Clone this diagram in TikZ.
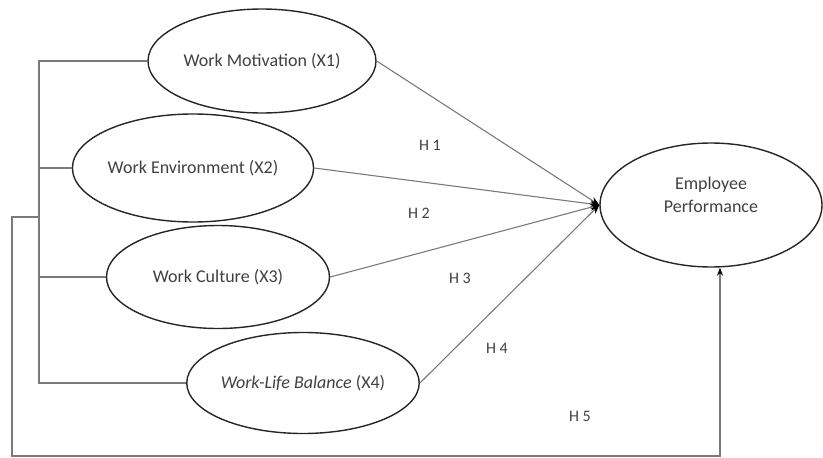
\documentclass[tikz,border=0pt]{standalone}
\usepackage{fontspec}
\setmainfont{Carlito}
\usetikzlibrary{shapes.geometric,arrows.meta}
\definecolor{txtgray}{HTML}{404040}
\definecolor{linegray}{HTML}{7A7A7A}

\begin{document}
\begin{tikzpicture}[x=1pt,y=-1pt,
			var/.style={ellipse,draw=black!85,line width=1.4pt,inner sep=0pt,text=txtgray,font=\fontsize{18}{22}\selectfont},
			link/.style={draw=linegray,line width=1.1pt},
			hyp/.style={text=txtgray,font=\fontsize{16}{19}\selectfont}]
			\useasboundingbox (0,0) rectangle (823,458);
			% variables
			\node[var,minimum width=228,minimum height=104] (x1) at (262,61) {Work Motivation (X1)};
			\node[var,minimum width=240,minimum height=108] (x2) at (193,168) {Work Environment (X2)};
			\node[var,minimum width=223,minimum height=103] (x3) at (218,277) {Work Culture (X3)};
			\node[var,minimum width=220,minimum height=101] (x4) at (303,383) {\textit{Work-Life Balance} (X4)};
			\node[var,minimum width=222,minimum height=124] (ep) at (711,205) {};
			\node[text=txtgray,font=\fontsize{18}{23}\selectfont,align=center] (eplabel) at (711,195) {Employee\\Performance};
			% left bracket
			\coordinate (b1) at (39,61);
			\coordinate (b2) at (39,168);
			\coordinate (b3) at (39,277);
			\coordinate (b4) at (39,383);
			\coordinate (bj) at (39,217);
			\coordinate (epin) at ([xshift=9pt]ep.south);
			\draw[link] (x1.west) -- (b1) -- (b4) -- (x4.west);
			\draw[link] (x2.west) -- (b2);
			\draw[link] (x3.west) -- (b3);
			% hypotheses
			\draw[link,-{Stealth[length=9pt,width=7pt,black]}] (x1.east) -- (ep.west);
			\draw[link,-{Stealth[length=9pt,width=7pt,black]}] (x2.east) -- (ep.west);
			\draw[link,-{Stealth[length=9pt,width=7pt,black]}] (x3.east) -- (ep.west);
			\draw[link,-{Stealth[length=9pt,width=7pt,black]}] (x4.east) -- (ep.west);
			\draw[link,-{Stealth[length=8pt,width=6pt,black]}] (bj) -- (12,217) -- (12,456) -| (epin);
			% labels
			\node[hyp] (h1) at (430,145) {H 1};
			\node[hyp] (h2) at (419,213) {H 2};
			\node[hyp] (h3) at (460,278) {H 3};
			\node[hyp] (h4) at (497,348) {H 4};
			\node[hyp] (h5) at (580,416) {H 5};
		\end{tikzpicture}
\end{document}
